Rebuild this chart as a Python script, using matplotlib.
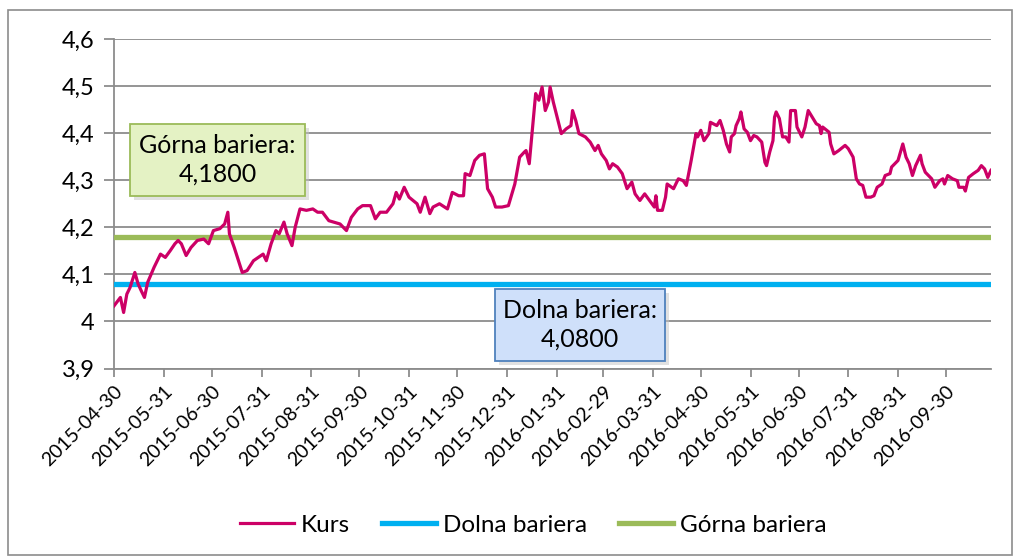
# -*- coding: utf-8 -*-
import matplotlib
matplotlib.use("Agg")
import matplotlib.pyplot as plt
import matplotlib.dates as mdates
from matplotlib.patches import Rectangle
from matplotlib.ticker import FuncFormatter
import numpy as np
import pandas as pd

# Kurs (dni od 2015-04-30, wartosc)
start_date = "2015-04-30"
day_offsets = [
    0, 4, 6, 8, 10, 13, 15, 17, 19, 21, 25, 29, 32, 35, 38, 40, 42, 45, 48, 52,
    56, 59, 62, 66, 69, 71, 72, 75, 80, 83, 87, 90, 93, 95, 98, 101, 103, 106,
    108, 111, 113, 116, 120, 124, 127, 130, 134, 137, 141, 145, 148, 152, 155,
    160, 163, 166, 170, 174, 176, 178, 181, 184, 189, 191, 194, 197, 199, 203,
    208, 211, 215, 218, 219, 222, 225, 228, 231, 233, 236, 238, 242, 246, 250,
    253, 256, 257, 259, 263, 265, 267, 269, 271, 272, 274, 279, 282, 285, 286,
    288, 290, 294, 297, 300, 302, 304, 307, 309, 311, 314, 317, 320, 323, 325,
    328, 331, 334, 337, 338, 339, 342, 344, 345, 349, 352, 355, 357, 360, 363,
    364, 366, 368, 371, 372, 376, 378, 380, 382, 384, 385, 387, 388, 390, 391,
    393, 395, 397, 399, 401, 404, 406, 407, 409, 411, 412, 413, 415, 417, 419,
    421, 422, 425, 426, 429, 431, 433, 436, 438, 440, 441, 442, 446, 447, 449,
    452, 456, 458, 461, 463, 465, 467, 469, 472, 474, 476, 479, 481, 484, 485,
    489, 492, 494, 496, 498, 500, 503, 504, 506, 510, 512, 515, 517, 518, 520,
    523, 526, 527, 530, 531, 533, 536, 539, 541, 543, 545, 547,
]
kurs = [
    4.033, 4.051, 4.019, 4.058, 4.072, 4.104, 4.080, 4.065, 4.051, 4.083,
    4.115, 4.143, 4.136, 4.150, 4.165, 4.172, 4.165, 4.140, 4.157, 4.172,
    4.175, 4.165, 4.193, 4.197, 4.207, 4.232, 4.186, 4.157, 4.104, 4.108,
    4.129, 4.136, 4.143, 4.129, 4.165, 4.193, 4.186, 4.211, 4.186, 4.161,
    4.200, 4.239, 4.236, 4.239, 4.232, 4.232, 4.214, 4.211, 4.207, 4.193,
    4.221, 4.239, 4.246, 4.246, 4.218, 4.232, 4.232, 4.250, 4.274, 4.260,
    4.285, 4.264, 4.250, 4.232, 4.264, 4.229, 4.243, 4.250, 4.239, 4.274,
    4.267, 4.267, 4.314, 4.310, 4.342, 4.353, 4.356, 4.282, 4.264, 4.243,
    4.243, 4.246, 4.292, 4.349, 4.360, 4.363, 4.335, 4.484, 4.470, 4.498,
    4.448, 4.466, 4.498, 4.466, 4.399, 4.409, 4.416, 4.448, 4.427, 4.399,
    4.392, 4.381, 4.363, 4.374, 4.356, 4.342, 4.324, 4.335, 4.328, 4.314,
    4.282, 4.296, 4.271, 4.257, 4.271, 4.257, 4.243, 4.267, 4.236, 4.236,
    4.264, 4.292, 4.282, 4.303, 4.299, 4.289, 4.342, 4.399, 4.392, 4.406,
    4.384, 4.399, 4.423, 4.416, 4.427, 4.406, 4.377, 4.360, 4.392, 4.399,
    4.416, 4.431, 4.445, 4.409, 4.402, 4.384, 4.395, 4.392, 4.381, 4.338,
    4.331, 4.360, 4.384, 4.434, 4.445, 4.431, 4.392, 4.392, 4.381, 4.448,
    4.448, 4.413, 4.392, 4.413, 4.448, 4.431, 4.420, 4.416, 4.399, 4.413,
    4.402, 4.377, 4.356, 4.363, 4.374, 4.367, 4.349, 4.303, 4.292, 4.289,
    4.264, 4.264, 4.267, 4.285, 4.292, 4.310, 4.314, 4.328, 4.342, 4.377,
    4.349, 4.335, 4.310, 4.331, 4.353, 4.335, 4.317, 4.303, 4.285, 4.299,
    4.303, 4.292, 4.310, 4.303, 4.299, 4.285, 4.285, 4.277, 4.306, 4.314,
    4.321, 4.331, 4.324, 4.306, 4.321,
]
dolna_bariera = 4.08
gorna_bariera = 4.18
tick_dates = ["2015-04-30", "2015-05-31", "2015-06-30", "2015-07-31",
              "2015-08-31", "2015-09-30", "2015-10-31", "2015-11-30",
              "2015-12-31", "2016-01-31", "2016-02-29", "2016-03-31",
              "2016-04-30", "2016-05-31", "2016-06-30", "2016-07-31",
              "2016-08-31", "2016-09-30"]

dates = pd.Timestamp(start_date) + pd.to_timedelta(day_offsets, unit="D")

plt.rcParams["font.family"] = ["Lato", "DejaVu Sans"]

fig = plt.figure(figsize=(10.25, 5.58), dpi=100)
ax = fig.add_axes([114 / 1025, 1 - 368.5 / 558, 877 / 1025, 329.5 / 558])

# ramka calego wykresu
fig.patches.append(Rectangle((8 / 1025, 3 / 558), 1004 / 1025, 545 / 558,
                             transform=fig.transFigure, fill=False,
                             edgecolor="#8c8c8c", linewidth=1.2))

ax.plot(dates, kurs, color="#cc0066", linewidth=2.3, label="Kurs", zorder=4)
ax.plot([dates[0], dates[-1]], [dolna_bariera] * 2, color="#00b0f0",
        linewidth=3.8, label="Dolna bariera", zorder=3)
ax.plot([dates[0], dates[-1]], [gorna_bariera] * 2, color="#9bbb59",
        linewidth=3.8, label="Górna bariera", zorder=3)

ax.set_xlim(dates[0], dates[-1])
ax.set_ylim(3.9, 4.6)
ax.set_yticks(np.arange(3.9, 4.61, 0.1))
ax.yaxis.set_major_formatter(FuncFormatter(lambda v, p: f"{v:g}".replace(".", ",")))
ax.grid(axis="y", color="#8c8c8c", linewidth=1.3)
ax.set_axisbelow(True)

ax.set_xticks(pd.to_datetime(tick_dates))
ax.xaxis.set_major_formatter(mdates.DateFormatter("%Y-%m-%d"))
plt.setp(ax.get_xticklabels(), rotation=45, ha="right", rotation_mode="anchor")

for s in ["top", "right"]:
    ax.spines[s].set_visible(False)
for s in ["left", "bottom"]:
    ax.spines[s].set_color("#8c8c8c")
    ax.spines[s].set_linewidth(1.3)
ax.tick_params(axis="y", length=7, width=1.3, color="#8c8c8c",
               labelsize=17, pad=7)
ax.tick_params(axis="x", length=6, width=1.3, color="#8c8c8c",
               labelsize=14, pad=4)

# etykiety barier
def label_box(x0, y0, w, h, face, edge, text):
    fig.patches.append(Rectangle(((x0 + 4) / 1025, 1 - (y0 + h + 4) / 558),
                                 w / 1025, h / 558, transform=fig.transFigure,
                                 facecolor="#c4c4c4", edgecolor="none",
                                 alpha=0.5, zorder=5))
    fig.patches.append(Rectangle((x0 / 1025, 1 - (y0 + h) / 558), w / 1025,
                                 h / 558, transform=fig.transFigure,
                                 facecolor=face, edgecolor=edge,
                                 linewidth=1.3, zorder=6))
    fig.text((x0 + w / 2) / 1025, 1 - (y0 + h / 2) / 558, text,
             ha="center", va="center", fontsize=18, linespacing=1.3,
             zorder=7)

label_box(130, 124, 175, 72, "#e4f2c4", "#9bbb59",
          "Górna bariera:\n" + f"{gorna_bariera:.4f}".replace(".", ","))
label_box(495, 289, 170, 72, "#cfe0fa", "#4f81bd",
          "Dolna bariera:\n" + f"{dolna_bariera:.4f}".replace(".", ","))

fig.legend(loc="center", bbox_to_anchor=(0.52, 1 - 525 / 558), ncol=3,
           frameon=False, fontsize=17.5, handlelength=2.25, columnspacing=1.3,
           handletextpad=0.27)

fig.savefig("out.png", dpi=100)
